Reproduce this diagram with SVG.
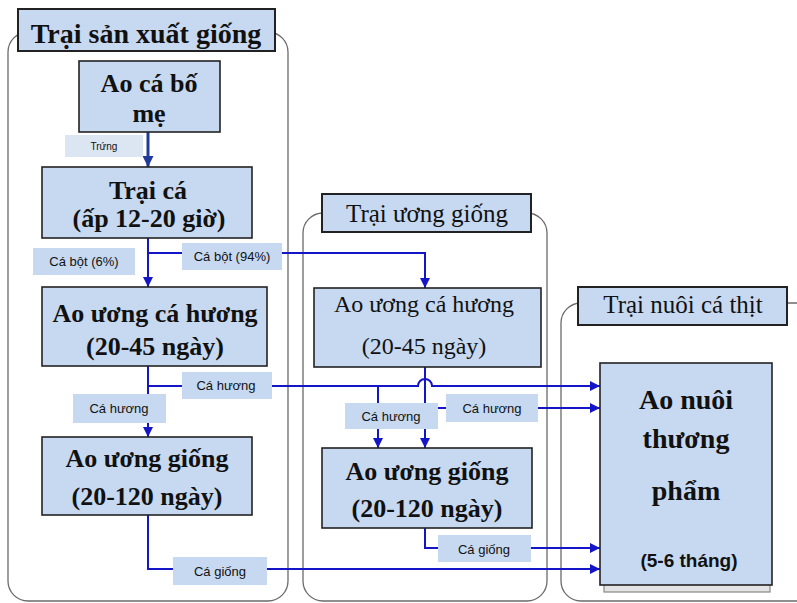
<svg xmlns="http://www.w3.org/2000/svg" width="797" height="603" viewBox="0 0 797 603">
<defs>
<marker id="ah" viewBox="0 0 10 10" refX="10" refY="5" markerWidth="10" markerHeight="10" markerUnits="userSpaceOnUse" orient="auto">
<path d="M0,0 L10,5 L0,10 Z" fill="#1515c8"/>
</marker>
<marker id="ahd" viewBox="0 0 10 10" refX="10" refY="5" markerWidth="11" markerHeight="11" markerUnits="userSpaceOnUse" orient="auto">
<path d="M0,0 L10,5 L0,10 Z" fill="#1f3a9a"/>
</marker>
<style>
.cont{fill:#fff;stroke:#6a6a6a;stroke-width:1.3}
.box{fill:#c6d9f1;stroke:#222;stroke-width:1.6}
.ttl{fill:#c6d9f1;stroke:#222;stroke-width:2}
.lbl{fill:#c6d9f1;stroke:none}
.lbl2{fill:#dce6f2;stroke:none}
.bt{font-family:"Liberation Serif","Times New Roman",serif;font-weight:bold;font-size:26px;fill:#111;text-anchor:middle}
.rt{font-family:"Liberation Serif","Times New Roman",serif;font-size:24px;fill:#111;text-anchor:middle}
.st{font-family:"Liberation Sans",Arial,sans-serif;font-size:13px;fill:#111;text-anchor:middle}
.ln{fill:none;stroke:#1515c8;stroke-width:2}
</style>
</defs>
<rect width="797" height="603" fill="#fff"/>

<g id="trai-san-xuat-giong">
<rect class="cont" x="8" y="32" width="280" height="569" rx="20"/>
<rect class="ttl" x="18" y="9" width="257" height="42"/>
<text class="bt" x="146" y="43" style="font-size:28px">Trại sản xuất giống</text>
</g>
<g id="trai-uong-giong">
<rect class="cont" x="303" y="213" width="244" height="388" rx="20"/>
<rect class="ttl" x="322" y="194" width="209" height="38"/>
<text class="rt" x="427" y="222" style="font-size:25px">Trại ương giống</text>
</g>
<g id="trai-nuoi-ca-thit">
<rect class="cont" x="561" y="303" width="260" height="298" rx="20"/>
<rect class="ttl" x="578" y="287" width="209" height="38"/>
<text class="rt" x="683" y="313" style="font-size:25px">Trại nuôi cá thịt</text>
</g>

<g id="connectors">
<path d="M148,132 L148,167" fill="none" stroke="#1f3a9a" stroke-width="3" marker-end="url(#ahd)"/>
<path class="ln" d="M148,238 L148,287" stroke-width="2.5" marker-end="url(#ah)"/>
<path class="ln" d="M148,253 L425,253 L425,288" marker-end="url(#ah)"/>
<path class="ln" d="M148,366 L148,437" marker-end="url(#ah)"/>
<path class="ln" d="M148,386 L418,386 A7,7 0 0 1 432,386 L600,386" marker-end="url(#ah)"/>
<path class="ln" d="M148,515 L148,569 L600,569" marker-end="url(#ah)"/>
<path class="ln" d="M425,367 L425,448" marker-end="url(#ah)"/>
<path class="ln" d="M378,386 L378,448" marker-end="url(#ah)"/>
<path class="ln" d="M425,408 L600,408" marker-end="url(#ah)"/>
<path class="ln" d="M425,528 L425,548 L600,548" marker-end="url(#ah)"/>
</g>

<g id="lbl-trung"><rect class="lbl2" x="65" y="135" width="78" height="22"/><text class="st" x="104" y="150" style="font-size:10px">Trứng</text></g>
<g id="lbl-cabot6"><rect class="lbl" x="33" y="248" width="102" height="27"/><text class="st" x="84" y="266">Cá bột (6%)</text></g>
<g id="lbl-cabot94"><rect class="lbl" x="182" y="243" width="100" height="27"/><text class="st" x="232" y="261">Cá bột (94%)</text></g>
<g id="lbl-cahuong1"><rect class="lbl" x="73" y="394" width="93" height="29"/><text class="st" x="119" y="413">Cá hương</text></g>
<g id="lbl-cahuong2"><rect class="lbl" x="182" y="372" width="90" height="27"/><text class="st" x="226" y="390">Cá hương</text></g>
<g id="lbl-cahuong3"><rect class="lbl" x="345" y="403" width="93" height="26"/><text class="st" x="391" y="421">Cá hương</text></g>
<g id="lbl-cahuong4"><rect class="lbl" x="446" y="394" width="92" height="28"/><text class="st" x="492" y="413">Cá hương</text></g>
<g id="lbl-cagiong1"><rect class="lbl" x="173" y="557" width="94" height="28"/><text class="st" x="220" y="576">Cá giống</text></g>
<g id="lbl-cagiong2"><rect class="lbl" x="438" y="535" width="93" height="27"/><text class="st" x="484" y="554">Cá giống</text></g>

<g id="ao-ca-bo-me">
<rect class="box" x="79" y="61" width="141" height="71"/>
<text class="bt" x="149" y="92">Ao cá bố</text>
<text class="bt" x="149" y="122">mẹ</text>
</g>
<g id="trai-ca">
<rect class="box" x="42" y="167" width="210" height="71"/>
<text class="bt" x="148" y="199">Trại cá</text>
<text class="bt" x="149" y="227">(ấp 12-20 giờ)</text>
</g>
<g id="ao-uong-ca-huong-1">
<rect class="box" x="42" y="287" width="225" height="79"/>
<text class="bt" x="155" y="322">Ao ương cá hương</text>
<text class="bt" x="155" y="355">(20-45 ngày)</text>
</g>
<g id="ao-uong-giong-1">
<rect class="box" x="42" y="437" width="210" height="78"/>
<text class="bt" x="147" y="467">Ao ương giống</text>
<text class="bt" x="147" y="505">(20-120 ngày)</text>
</g>
<g id="ao-uong-ca-huong-2">
<rect class="box" x="314" y="288" width="227" height="79"/>
<text class="rt" x="424" y="312">Ao ương cá hương</text>
<text class="rt" x="424" y="354">(20-45 ngày)</text>
</g>
<g id="ao-uong-giong-2">
<rect class="box" x="322" y="448" width="210" height="80"/>
<text class="bt" x="427" y="480">Ao ương giống</text>
<text class="bt" x="427" y="517">(20-120 ngày)</text>
</g>
<g id="ao-nuoi-thuong-pham">
<rect x="604" y="368" width="166" height="224" fill="#e4e4e4" stroke="#888" stroke-width="1.2"/>
<rect class="box" x="600" y="363" width="172" height="222"/>
<text class="bt" x="686" y="409" style="font-size:28px">Ao nuôi</text>
<text class="bt" x="686" y="448" style="font-size:28px">thương</text>
<text class="bt" x="686" y="500" style="font-size:28px">phẩm</text>
<text class="st" x="689" y="567" style="font-size:19px;font-weight:bold">(5-6 tháng)</text>
</g>
</svg>
